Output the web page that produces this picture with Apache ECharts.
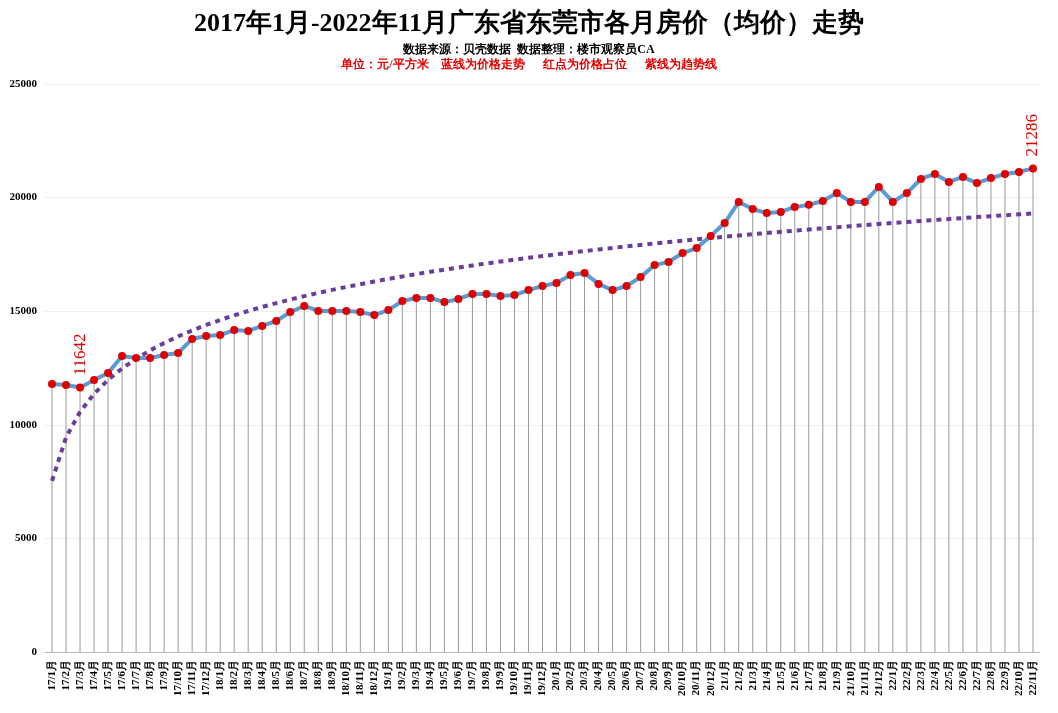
<!DOCTYPE html><html><head><meta charset="utf-8"><script src="https://cdn.jsdelivr.net/npm/echarts@6/dist/echarts.min.js"></script></head><body style="margin:0"><div id="c" style="width:1058px;height:713px"></div><script>
const months=[];for(let y=17;y<=22;y++)for(let m=1;m<=12;m++){if(y===22&&m>11)break;months.push(y+'/'+m+'月');}
const prices=[11796,11750,11642,11970,12280,13030,12940,12940,13070,13160,13780,13910,13950,14170,14130,14350,14570,14960,15230,15010,15010,15010,14960,14830,15050,15450,15580,15580,15400,15540,15760,15760,15670,15710,15930,16110,16240,16590,16680,16200,15930,16110,16500,17030,17170,17560,17780,18310,18880,19810,19500,19320,19370,19590,19680,19850,20200,19810,19810,20470,19810,20200,20820,21040,20690,20910,20640,20860,21040,21130,21286];
const yTicks=[0,5000,10000,15000,20000,25000];
// logarithmic trendline fitted to prices
const n=prices.length;let sx=0,sy=0,sxx=0,sxy=0;
prices.forEach((v,i)=>{const x=Math.log(i+1);sx+=x;sy+=v;sxx+=x*x;sxy+=x*v;});
const b=(n*sxy-sx*sy)/(n*sxx-sx*sx),a=(sy-b*sx)/n;
const trend=prices.map((v,i)=>+(a+b*Math.log(i+1)).toFixed(0));
const lbl={show:true,rotate:90,position:'top',distance:8,color:'#e00000',fontFamily:'Liberation Serif',fontSize:17,align:'left',verticalAlign:'middle'};
const pdata=prices.map((v,i)=>(i===2||i===n-1)?{value:v,label:lbl}:v);
const ch=echarts.init(document.getElementById('c'));
ch.setOption({backgroundColor:'#fff',animation:false,
title:[{text:'2017年1月-2022年11月广东省东莞市各月房价（均价）走势',left:'center',top:6,textStyle:{fontFamily:'Liberation Serif',fontWeight:'bold',fontSize:26,color:'#000'}},
{text:'数据来源：贝壳数据  数据整理：楼市观察员CA',left:'center',top:39,textStyle:{fontFamily:'Liberation Serif',fontWeight:'bold',fontSize:12,color:'#000'}},
{text:'单位：元/平方米    蓝线为价格走势      红点为价格占位      紫线为趋势线',left:'center',top:54,textStyle:{fontFamily:'Liberation Serif',fontSize:12,color:'#e00000'}}],
grid:{left:45,right:18,top:84,bottom:61},
xAxis:{type:'category',data:months,boundaryGap:true,axisTick:{show:false},axisLine:{lineStyle:{color:'#bbb'}},axisLabel:{interval:0,rotate:90,fontFamily:'Liberation Serif',fontWeight:'bold',fontSize:11,color:'#000'}},
yAxis:{type:'value',min:0,max:25000,interval:5000,axisLabel:{fontFamily:'Liberation Serif',fontWeight:'bold',fontSize:11,color:'#000',formatter:v=>yTicks.includes(v)?String(v):''},splitLine:{lineStyle:{color:'#eee'}},axisLine:{show:false},axisTick:{show:false}},
series:[
{type:'bar',data:prices,barWidth:1,itemStyle:{color:'#999'},silent:true},
{type:'line',data:trend,symbol:'none',lineStyle:{color:'#6a3d9a',width:4,type:[5,5]},z:3},
{type:'line',data:pdata,symbol:'circle',symbolSize:8,lineStyle:{color:'#5b9bd5',width:4},itemStyle:{color:'#e00000'},z:4}
]});
</script></body></html>
